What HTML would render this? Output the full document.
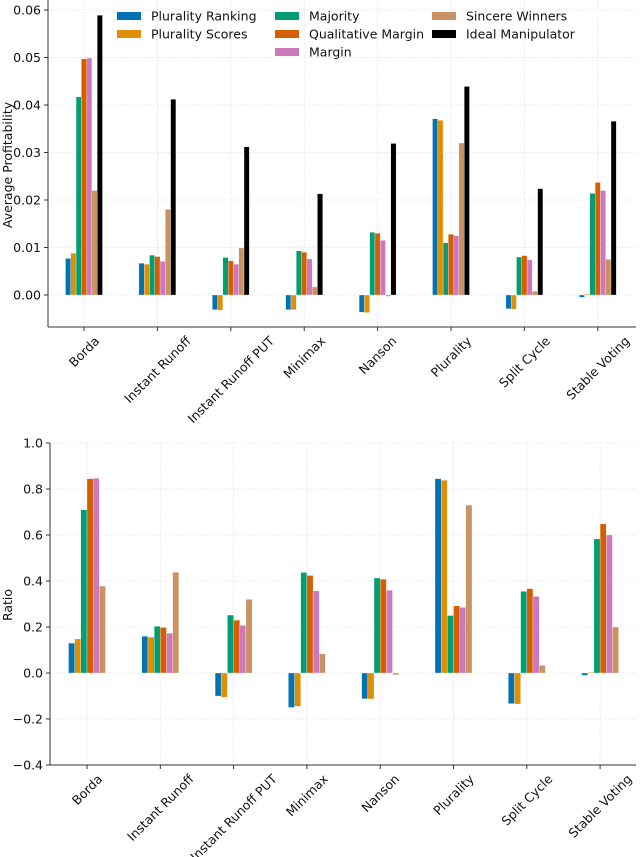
<!DOCTYPE html>
<html><head><meta charset="utf-8"><style>
body{margin:0;background:#fff}
svg{display:block;font-family:"DejaVu Sans","Liberation Sans",sans-serif}
</style></head><body>
<svg id="c" width="640" height="857" xmlns="http://www.w3.org/2000/svg"></svg>
<script>
const categories=["Borda","Instant Runoff","Instant Runoff PUT","Minimax","Nanson","Plurality","Split Cycle","Stable Voting"];
const seriesNames=["Plurality Ranking","Plurality Scores","Majority","Qualitative Margin","Margin","Sincere Winners","Ideal Manipulator"];
const colors=["#0173b2","#de8f05","#029e73","#d55e00","#cc78bc","#ca9161","#000000"];
const pluralityRanking=[0.0077,0.0067,-0.0031,-0.0031,-0.0036,0.0371,-0.0029,-0.0005];
const pluralityScores=[0.0088,0.0065,-0.0032,-0.0031,-0.0037,0.0368,-0.0030,0.0002];
const majority=[0.0417,0.0084,0.0079,0.0093,0.0132,0.0110,0.0080,0.0214];
const qualitativeMargin=[0.0497,0.0081,0.0072,0.0090,0.0130,0.0128,0.0083,0.0237];
const margin=[0.0499,0.0071,0.0065,0.0076,0.0115,0.0125,0.0074,0.0220];
const sincereWinners=[0.0220,0.0180,0.0099,0.0017,-0.0003,0.0320,0.0008,0.0075];
const idealManipulator=[0.0589,0.0412,0.0312,0.0213,0.0319,0.0439,0.0224,0.0366];
const ratioPluralityRanking=[0.130,0.160,-0.100,-0.150,-0.112,0.845,-0.133,-0.010];
const ratioPluralityScores=[0.148,0.156,-0.105,-0.145,-0.113,0.838,-0.135,0.003];
const ratioMajority=[0.710,0.203,0.252,0.437,0.413,0.250,0.355,0.583];
const ratioQualitativeMargin=[0.845,0.198,0.230,0.424,0.408,0.292,0.367,0.648];
const ratioMargin=[0.847,0.173,0.207,0.357,0.360,0.285,0.333,0.600];
const ratioSincereWinners=[0.378,0.438,0.320,0.083,-0.008,0.730,0.033,0.200];
const topTicks=[0.00,0.01,0.02,0.03,0.04,0.05,0.06];
const bottomTicks=[-0.4,-0.2,0.0,0.2,0.4,0.6,0.8,1.0];

const NS="http://www.w3.org/2000/svg";
const svg=document.getElementById('c');
function el(t,a,p){const e=document.createElementNS(NS,t);for(const k in a)e.setAttribute(k,a[k]);(p||svg).appendChild(e);return e;}

function drawChart(o){
  const g=el('g',{});
  
  
  const y=v=>o.y0-(v*o.scale);
  const x=i=>o.x0+i*o.dx;
  o.ticks.forEach((t,k)=>{
    const ln=el('line',{x1:o.left,x2:o.right,y1:y(t),y2:y(t),stroke:'#e6e6e6','stroke-width':0.8,'stroke-dasharray':'2,1'},g);
    
    
    el('line',{x1:o.left-4,x2:o.left,y1:y(t),y2:y(t),stroke:'#333'},g);
    const tx=el('text',{x:o.left-7,y:y(t)+4.5,'text-anchor':'end','font-size':12.5,fill:'#111'},g);
    tx.textContent=(t<0?'\u2212':'')+Math.abs(t).toFixed(o.dec);
    
    
  });
  categories.forEach((c,i)=>{
    const ln=el('line',{x1:x(i),x2:x(i),y1:o.top,y2:o.bottom,stroke:'#e6e6e6','stroke-width':0.8,'stroke-dasharray':'2,1'},g);
    
    
    el('line',{x1:x(i),x2:x(i),y1:o.bottom,y2:o.bottom+4,stroke:'#333'},g);
    const tx=el('text',{x:0,y:4.5,'text-anchor':'middle','font-size':12.5,fill:'#111'},g);
    tx.textContent=c;
    
    
    const L=tx.getComputedTextLength()||c.length*7.5;
    const cy=o.bottom+7+(L+13)*0.3536;
    tx.setAttribute('transform',`translate(${x(i)},${cy}) rotate(-45)`);
  });
  const n=o.series.length, bw=o.groupW/n;
  o.series.forEach((s,j)=>{
    s.forEach((v,i)=>{
      const bx=x(i)-o.groupW/2+j*bw;
      const r=el('rect',{x:bx,y:Math.min(y(v),y(0)),width:bw,height:Math.max(Math.abs(y(v)-y(0)),0.5),fill:colors[j],stroke:'#fff','stroke-width':0.3},g);
      
      
    });
  });
  el('line',{x1:o.left,x2:o.left,y1:o.top,y2:o.bottom,stroke:'#333','stroke-width':1},g);
  el('line',{x1:o.left,x2:o.right,y1:o.bottom,y2:o.bottom,stroke:'#333','stroke-width':1},g);
  const yl=el('text',{x:0,y:0,'text-anchor':'middle','font-size':12.5,fill:'#111',transform:`translate(12,${o.ylabY}) rotate(-90)`},g);
  yl.textContent=o.ylabel;
  
  
}
drawChart({name:'profitability-chart',left:48,right:636,top:0,bottom:327,y0:295,scale:4750,x0:84,dx:73.4,groupW:37,ticks:topTicks,dec:2,
  series:[pluralityRanking,pluralityScores,majority,qualitativeMargin,margin,sincereWinners,idealManipulator],ylabel:'Average Profitability',ylabY:165});
drawChart({name:'ratio-chart',left:50,right:636,top:443,bottom:765,y0:673,scale:230,x0:87,dx:73.3,groupW:37,ticks:bottomTicks,dec:1,
  series:[ratioPluralityRanking,ratioPluralityScores,ratioMajority,ratioQualitativeMargin,ratioMargin,ratioSincereWinners],ylabel:'Ratio',ylabY:605});
const lg=el('g',{});


const pos=[[117,16],[117,34],[275,16],[275,34],[275,52],[432,16],[432,34]];
seriesNames.forEach((nm,j)=>{
  const e=el('g',{},lg);
  
  
  el('rect',{x:pos[j][0],y:pos[j][1]-4,width:24,height:8,fill:colors[j]},e);
  const t=el('text',{x:pos[j][0]+34,y:pos[j][1]+4.5,'font-size':12.5,fill:'#111'},e);
  t.textContent=nm;
});
</script>
</body></html>
